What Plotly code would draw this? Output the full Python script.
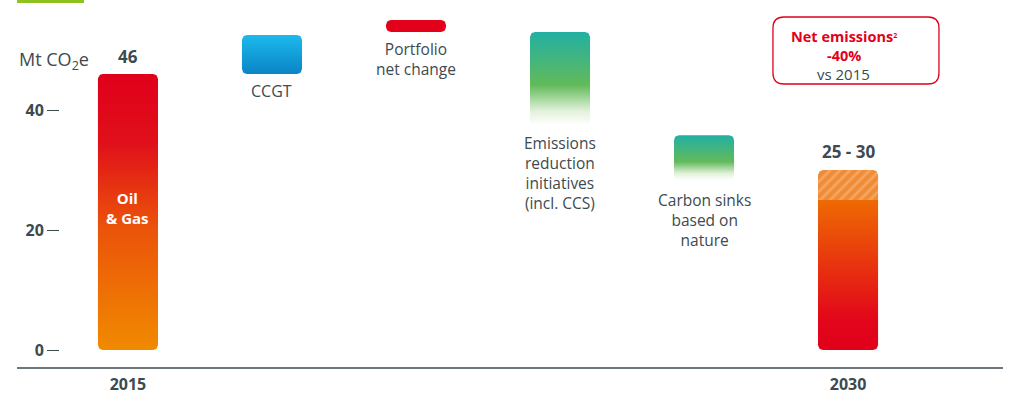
import numpy as np
import plotly.graph_objects as go

# ---------------- data ----------------
categories = ["2015", "CCGT", "Portfolio net change",
              "Emissions reduction initiatives (incl. CCS)",
              "Carbon sinks based on nature", "2030"]
bar_low = [0, 46, 53, 37.5, 28.3, 0]
bar_high = [46, 52.5, 55, 53, 35.8, 25]
range_2030 = [25, 30]
total_2015 = 46
y_ticks = [0, 20, 40]
x_ticklabels = ["2015", "2030"]

# ---------------- layout constants ----------------
W, H = 1011, 393
ML, MR, MT, MB = 60, 8, 0, 25
XR = [-0.472, 6.076]
YR = [-3, 58.333]
PX_X = (W - ML - MR) / (XR[1] - XR[0])
PX_Y = (H - MT - MB) / (YR[1] - YR[0])
BAR_W = 0.417
GRAY = "#3D4A4F"
RED = "#E2001A"
FONT = "Open Sans"


def rounded_rect(xc, y0, y1, r_px=5, top=True, bottom=True, w=BAR_W):
    rx, ry = r_px / PX_X, r_px / PX_Y
    xl, xr = xc - w / 2, xc + w / 2
    xs, ys = [], []

    def arc(cx, cy, a0, a1):
        tt = np.linspace(a0, a1, 8)
        return list(cx + rx * np.cos(tt)), list(cy + ry * np.sin(tt))

    if bottom:
        a, b = arc(xl + rx, y0 + ry, np.pi, 1.5 * np.pi); xs += a; ys += b
        a, b = arc(xr - rx, y0 + ry, 1.5 * np.pi, 2 * np.pi); xs += a; ys += b
    else:
        xs += [xl, xr]; ys += [y0, y0]
    if top:
        a, b = arc(xr - rx, y1 - ry, 0, 0.5 * np.pi); xs += a; ys += b
        a, b = arc(xl + rx, y1 - ry, 0.5 * np.pi, np.pi); xs += a; ys += b
    else:
        xs += [xr, xl]; ys += [y1, y1]
    xs.append(xs[0]); ys.append(ys[0])
    return xs, ys


gradients = [
    [[0, "#F18A00"], [0.45, "#EB520A"], [0.75, "#E0101A"], [1, "#E0001A"]],
    [[0, "#0A84C6"], [1, "#1CBAEC"]],
    None,
    [[0, "#FFFFFF"], [0.15, "#E2F1DA"], [0.43, "#62BA5A"], [1, "#22B0A3"]],
    [[0, "#FFFFFF"], [0.15, "#E2F1DA"], [0.41, "#62BA5A"], [1, "#22B0A3"]],
    [[0, "#E0001A"], [0.2, "#E2061A"], [1, "#EE6A02"]],
]

fig = go.Figure()
for i, (lo, hi) in enumerate(zip(bar_low, bar_high)):
    is_last = i == len(categories) - 1
    xs, ys = rounded_rect(i, lo, hi, top=not is_last)
    kw = dict(x=xs, y=ys, mode="lines", fill="toself", line=dict(width=0),
              hoverinfo="skip", showlegend=False, name=categories[i])
    if gradients[i] is None:
        kw["fillcolor"] = RED
    else:
        kw["fillgradient"] = dict(type="vertical", colorscale=gradients[i])
    fig.add_trace(go.Scatter(**kw))

# hatched uncertainty range for 2030
xs, ys = rounded_rect(5, range_2030[0], range_2030[1], bottom=False)
fig.add_trace(go.Scatter(x=xs, y=ys, mode="lines", fill="toself", line=dict(width=0),
                         fillcolor="#F08B36",
                         fillpattern=dict(shape="/", bgcolor="#F08B36", fgcolor="#F8C08C",
                                          size=7, solidity=0.4),
                         hoverinfo="skip", showlegend=False))

lab = dict(family=FONT, size=16, color=GRAY)
lab2 = dict(family=FONT, size=15.5, color=GRAY)
bold = dict(family=FONT, size=17, color=GRAY)
ann = [
    dict(x=0, y=total_2015, text="<b>46</b>", yanchor="bottom", yshift=4, font=bold),
    dict(x=0, y=23.7, text="<b>Oil<br>& Gas</b>", font=dict(family=FONT, size=15, color="white")),
    dict(x=1, y=bar_low[1], text="CCGT", yanchor="top", yshift=-4, font=lab),
    dict(x=2, y=bar_low[2], text="Portfolio<br>net change", yanchor="top", yshift=-4, font=lab2),
    dict(x=3, y=bar_low[3], text="Emissions<br>reduction<br>initiatives<br>(incl. CCS)",
         yanchor="top", yshift=-5, font=lab2),
    dict(x=4, y=bar_low[4], text="Carbon sinks<br>based on<br>nature", yanchor="top", yshift=-7, font=lab2),
    dict(x=5, y=range_2030[1], text="<b>25 - 30</b>", yanchor="bottom", yshift=5, font=bold),
    dict(x=4.97, y=52.3, text="<b>Net emissions<span style='font-size:10px'><sup>2</sup></span></b>",
         font=dict(family=FONT, size=14.5, color=RED), borderpad=0),
    dict(x=4.97, y=49.1, text="<b>-40%</b>", font=dict(family=FONT, size=14.5, color=RED), borderpad=0),
    dict(x=4.97, y=46.0, text="vs 2015", font=dict(family=FONT, size=15, color=GRAY), borderpad=0),
    dict(xref="paper", yref="y", x=(17 - ML) / (W - ML - MR), y=48.3, xanchor="left",
         text="Mt CO<sub>2</sub>e", font=dict(family=FONT, size=18, color=GRAY)),
]
for a in ann:
    a["showarrow"] = False
    fig.add_annotation(**a)

# annotation box (rounded rectangle)
bx0, bx1 = (773 - 128) / PX_X, (939 - 128) / PX_X
by0, by1 = (350 - 84) / PX_Y, (350 - 17) / PX_Y
rx, ry = 11 / PX_X, 11 / PX_Y
path = (f"M {bx0+rx},{by0} L {bx1-rx},{by0} Q {bx1},{by0} {bx1},{by0+ry} "
        f"L {bx1},{by1-ry} Q {bx1},{by1} {bx1-rx},{by1} L {bx0+rx},{by1} "
        f"Q {bx0},{by1} {bx0},{by1-ry} L {bx0},{by0+ry} Q {bx0},{by0} {bx0+rx},{by0} Z")
fig.add_shape(type="path", path=path, xref="x", yref="y", line=dict(color=RED, width=1.3))

# baseline
fig.add_shape(type="line", xref="paper", yref="paper", x0=(17 - ML) / (W - ML - MR), x1=1,
              y0=0, y1=0, line=dict(color=GRAY, width=1.5))
# green accent at top-left
fig.add_shape(type="line", xref="paper", yref="paper", x0=(17 - ML) / (W - ML - MR),
              x1=(84 - ML) / (W - ML - MR), y0=1 - 1.5 / (H - MT - MB), y1=1 - 1.5 / (H - MT - MB),
              line=dict(color="#8DC21F", width=3))

fig.update_layout(
    width=W, height=H, margin=dict(l=ML, r=MR, t=MT, b=MB),
    paper_bgcolor="white", plot_bgcolor="white", showlegend=False, hovermode=False,
    xaxis=dict(range=XR, showgrid=False, zeroline=False, showline=False, automargin=False,
               tickvals=[0, 5], ticktext=[f"<b>{t}</b>" for t in x_ticklabels],
               tickfont=dict(family=FONT, size=16, color=GRAY), ticks="", ticklabelstandoff=5),
    yaxis=dict(range=YR, showgrid=False, zeroline=False, showline=False, automargin=False,
               tickvals=y_ticks, ticktext=[f"<b>{v}</b>" for v in y_ticks],
               ticks="outside", ticklen=12, tickwidth=1.3, tickcolor=GRAY,
               tickfont=dict(family=FONT, size=16, color=GRAY)),
)

fig.write_html("out.html", config={"displayModeBar": False},
               post_script="document.body.style.margin='0';")
